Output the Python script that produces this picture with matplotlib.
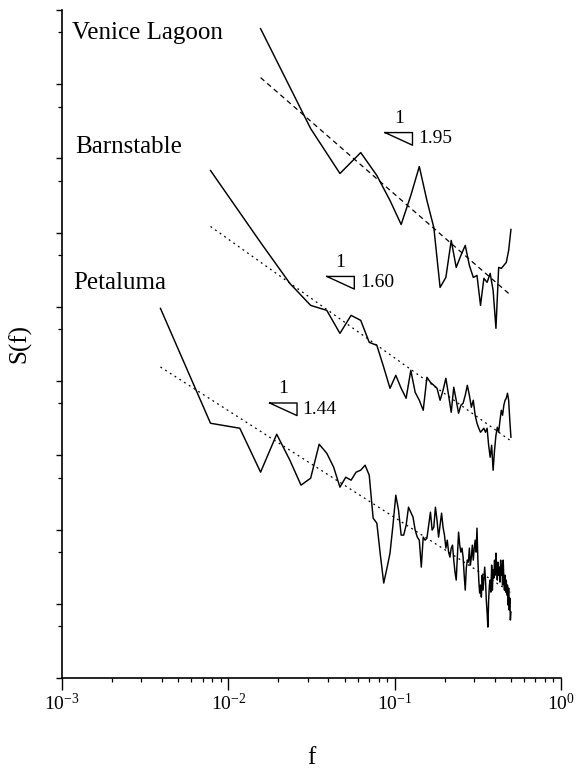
import numpy as np
import matplotlib.pyplot as plt
from matplotlib.ticker import LogLocator, NullFormatter

plt.rcParams['font.family'] = ['Liberation Serif', 'DejaVu Serif']
plt.rcParams['mathtext.fontset'] = 'custom'
plt.rcParams['mathtext.rm'] = 'Liberation Serif'

# ── spectra: frequency grid k/N and log10 of the power at each harmonic ──────

venice_f = np.arange(1, 33) / 64
venice_log_s = [
    8.748, 7.402, 6.797, 7.079, 6.770, 6.433, 6.110, 6.501,
    6.891, 6.433, 6.070, 5.262, 5.397, 5.895, 5.532, 5.693,
    5.828, 5.559, 5.397, 5.424, 5.020, 5.384, 5.330, 5.451,
    5.222, 4.711, 5.532, 5.518, 5.559, 5.599, 5.760, 6.043,
]

barnstable_f = np.arange(1, 65) / 128
barnstable_log_s = [
    6.837, 5.868, 5.316, 5.020, 4.953, 4.643, 4.886, 4.818,
    4.522, 4.482, 4.186, 3.903, 4.078, 3.903, 3.769, 4.145,
    3.849, 3.742, 3.607, 4.051, 3.984, 3.943, 3.903, 3.742,
    3.876, 4.038, 3.809, 3.580, 3.917, 3.742, 3.567, 3.674,
    3.701, 3.809, 3.943, 3.809, 3.647, 3.742, 3.540, 3.432,
    3.365, 3.311, 3.338, 3.365, 3.311, 3.365, 3.136, 2.974,
    3.136, 2.799, 3.069, 3.271, 3.378, 3.311, 3.472, 3.607,
    3.540, 3.674, 3.742, 3.769, 3.836, 3.742, 3.472, 3.244,
]

petaluma_f = np.arange(1, 129) / 256
petaluma_log_s = [
    4.980, 3.432, 3.365, 2.773, 3.284, 2.934, 2.598, 2.692,
    3.149, 3.028, 2.840, 2.571, 2.705, 2.665, 2.773, 2.800,
    2.867, 2.732, 2.153, 2.086, 1.655, 1.279, 1.480, 1.682,
    2.059, 2.463, 2.261, 1.925, 1.925, 2.059, 2.301, 2.234,
    2.167, 1.992, 1.898, 1.857, 1.494, 1.898, 1.857, 1.884,
    2.059, 2.234, 1.992, 2.032, 2.301, 2.127, 1.898, 2.059,
    2.221, 2.032, 1.925, 1.750, 1.857, 1.696, 1.629, 1.750,
    1.790, 1.588, 1.427, 1.319, 1.655, 1.965, 1.790, 1.696,
    1.750, 1.629, 1.386, 1.184, 1.480, 1.588, 1.561, 1.750,
    1.521, 1.629, 1.790, 1.588, 1.750, 1.857, 1.696, 2.019,
    1.588, 1.319, 1.144, 1.252, 1.090, 1.386, 1.184, 1.346,
    1.494, 1.319, 1.050, 0.888, 0.686, 1.050, 1.252, 1.319,
    1.157, 1.521, 1.184, 1.454, 1.346, 1.588, 1.386, 1.682,
    1.480, 1.319, 1.561, 1.386, 1.494, 1.292, 1.588, 1.386,
    1.521, 1.252, 1.588, 1.346, 1.184, 1.386, 1.157, 1.319,
    1.117, 1.252, 0.983, 1.211, 0.915, 1.077, 0.781, 0.888,
]

names = ['Venice Lagoon', 'Barnstable', 'Petaluma']
slopes = [1.95, 1.60, 1.44]
fit_log_amp = [4.567, 2.712, 0.722]          # log10 A in S = A f^-slope
tri_anchor_f = [0.0875, 0.0391, 0.0177]      # top-left corner of slope triangles
tri_anchor_s = [2.23e7, 2.57e5, 5.07e3]

# ── figure ───────────────────────────────────────────────────────────────────

fig = plt.figure(figsize=(5.85, 7.68), dpi=100)
ax = fig.add_axes([0.106, 0.1172, 0.853, 0.8698])
ax.set_xscale('log')
ax.set_yscale('log')
ax.set_xlim(1e-3, 1)
ax.set_ylim(1, 1e9)

series = [
    (venice_f, venice_log_s, (0, (4, 3))),
    (barnstable_f, barnstable_log_s, (0, (1.5, 3))),
    (petaluma_f, petaluma_log_s, (0, (1.5, 3))),
]

for (f, log_s, fit_ls), slope, amp in zip(series, slopes, fit_log_amp):
    ax.plot(f, 10 ** np.asarray(log_s), color='black', lw=1.05)
    ff = np.array([f[0], f[-1]])
    ax.plot(ff, 10 ** amp * ff ** (-slope), color='black', lw=0.9, linestyle=fit_ls)

# slope triangles
tri_w, tri_h = 10 ** 0.165, 10 ** 0.17
for f0, s0, slope in zip(tri_anchor_f, tri_anchor_s, slopes):
    xs = [f0, f0 * tri_w, f0 * tri_w, f0]
    ys = [s0, s0, s0 / tri_h, s0]
    ax.plot(xs, ys, color='black', lw=1.0)
    ax.annotate('1', (f0 * np.sqrt(tri_w), s0), xytext=(0, 4),
                textcoords='offset points', ha='center', va='bottom', fontsize=14)
    ax.annotate(f'{slope:.2f}', (f0 * tri_w, s0 / np.sqrt(tri_h)), xytext=(4, 0),
                textcoords='offset points', ha='left', va='center', fontsize=14)

# series names
name_pos = [(0.02, 0.966), (0.026, 0.795), (0.022, 0.591)]
for name, (tx, ty) in zip(names, name_pos):
    ax.text(tx, ty, name, transform=ax.transAxes, ha='left', va='center', fontsize=18)

# axes styling
for side in ('top', 'right'):
    ax.spines[side].set_visible(False)
for side in ('left', 'bottom'):
    ax.spines[side].set_linewidth(1.2)

ax.xaxis.set_major_locator(LogLocator(base=10, numticks=10))
ax.xaxis.set_minor_locator(LogLocator(base=10, subs=np.arange(2, 10), numticks=10))
ax.xaxis.set_minor_formatter(NullFormatter())
ax.yaxis.set_major_locator(LogLocator(base=10, numticks=20))
ax.yaxis.set_minor_locator(LogLocator(base=10, subs=[5.0], numticks=20))
ax.yaxis.set_major_formatter(NullFormatter())
ax.yaxis.set_minor_formatter(NullFormatter())

ax.tick_params(axis='x', which='major', direction='out', length=8.5, width=1.0,
               labelsize=14, pad=2)
ax.tick_params(axis='x', which='minor', direction='out', length=3, width=0.9)
ax.tick_params(axis='y', which='major', direction='out', length=4.5, width=1.0)
ax.tick_params(axis='y', which='minor', direction='out', length=3, width=0.9)

ax.set_xlabel('f', fontsize=18, labelpad=24)
ax.set_ylabel('S(f)', fontsize=18, labelpad=14)

fig.savefig('out.png', dpi=100)
